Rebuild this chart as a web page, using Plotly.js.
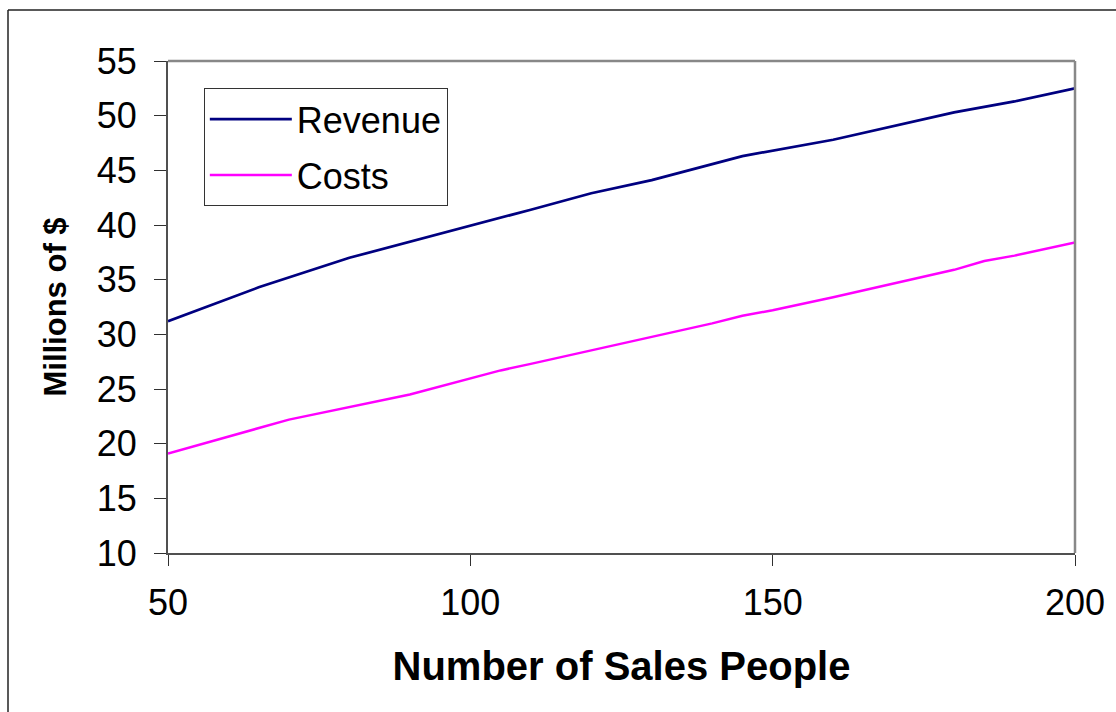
<!DOCTYPE html>
<html>
<head>
<meta charset="utf-8">
<script src="https://cdn.plot.ly/plotly-3.0.1.min.js"></script>
<style>
  html, body { margin: 0; padding: 0; background: #ffffff; }
  #chart { width: 1116px; height: 712px; }
</style>
</head>
<body>
<div id="chart"></div>
<script>
// Data
const revenueX = [50, 65, 80, 100, 110, 120, 130, 145, 160, 180, 190, 200];
const revenueY = [31.2, 34.3, 37.0, 39.9, 41.4, 42.9, 44.1, 46.3, 47.8, 50.3, 51.3, 52.5];
const costsX = [50, 70, 90, 105, 110, 140, 145, 150, 160, 180, 185, 190, 200];
const costsY = [19.1, 22.2, 24.5, 26.7, 27.3, 31.0, 31.7, 32.2, 33.4, 35.9, 36.7, 37.2, 38.4];
const seriesNames = ["Revenue", "Costs"];
const xTickVals = [50, 100, 150, 200];
const yTickVals = [10, 15, 20, 25, 30, 35, 40, 45, 50, 55];

const FONT = "Liberation Sans, Arial, sans-serif";

const traces = [
  {
    x: revenueX, y: revenueY, name: seriesNames[0], type: "scatter", mode: "lines",
    line: { color: "#000080", width: 2.7 }, legendgroup: "a"
  },
  {
    x: costsX, y: costsY, name: seriesNames[1], type: "scatter", mode: "lines",
    line: { color: "#FF00FF", width: 2.5 }, legendgroup: "b"
  }
];

const layout = {
  width: 1116, height: 712,
  paper_bgcolor: "#ffffff", plot_bgcolor: "#ffffff",
  margin: { l: 168, r: 41, t: 61, b: 159, pad: 0 },
  font: { family: FONT, color: "#000000", size: 36 },
  showlegend: true,
  legend: {
    x: 0.0395, y: 0.9445, xanchor: "left", yanchor: "top",
    bgcolor: "#ffffff", bordercolor: "#333333", borderwidth: 1,
    font: { family: FONT, size: 36, color: "#000000" },
    itemwidth: 82, tracegroupgap: 6, traceorder: "grouped"
  },
  xaxis: {
    range: [50, 200], tickvals: xTickVals, ticktext: xTickVals.map(String),
    showgrid: false, zeroline: false,
    showline: true, linecolor: "#505050", linewidth: 2,
    ticks: "outside", ticklen: 11, tickwidth: 1, tickcolor: "#303030",
    tickfont: { family: FONT, size: 36, color: "#000000" },
    ticklabelstandoff: 6,
    title: { text: "Number of Sales People", font: { family: FONT, size: 40, color: "#000000", weight: "bold" }, standoff: 30 },
    automargin: false
  },
  yaxis: {
    range: [10, 55], tickvals: yTickVals, ticktext: yTickVals.map(String),
    showgrid: false, zeroline: false,
    showline: true, linecolor: "#505050", linewidth: 2,
    ticks: "outside", ticklen: 12, tickwidth: 1, tickcolor: "#303030",
    tickfont: { family: FONT, size: 36, color: "#000000" },
    ticklabelstandoff: 10,
    title: { text: "Millions of $", font: { family: FONT, size: 31, color: "#000000", weight: "bold" }, standoff: 21 },
    automargin: false
  },
  shapes: [
    // top and right border of the plot area
    { type: "line", xref: "paper", yref: "paper", x0: 0, x1: 1, y0: 1, y1: 1, line: { color: "#888888", width: 2.5 } },
    { type: "line", xref: "paper", yref: "paper", x0: 1, x1: 1, y0: 0, y1: 1, line: { color: "#888888", width: 2.5 } },
    // outer chart frame (left and top edges visible)
    { type: "line", xref: "paper", yref: "paper", x0: (8 - 168) / 907, x1: (8 - 168) / 907, y0: (553 - 712) / 492, y1: (553 - 10) / 492, line: { color: "#222222", width: 1.5 } },
    { type: "line", xref: "paper", yref: "paper", x0: (8 - 168) / 907, x1: (1116 - 168) / 907, y0: (553 - 10) / 492, y1: (553 - 10) / 492, line: { color: "#222222", width: 1.5 } }
  ]
};

Plotly.newPlot("chart", traces, layout, { displayModeBar: false, staticPlot: true });
</script>
</body>
</html>
